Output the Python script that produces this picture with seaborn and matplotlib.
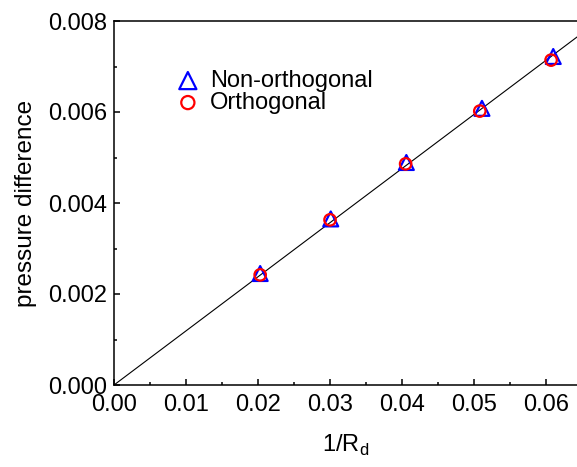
import seaborn as sns
import matplotlib.pyplot as plt
import pandas as pd
from matplotlib.ticker import MultipleLocator

# --- data ---
non_orth_x = [0.0203, 0.0301, 0.0406, 0.0511, 0.0610]
non_orth_y = [0.00245, 0.00365, 0.00489, 0.00608, 0.00722]
orth_x = [0.0203, 0.0300, 0.0405, 0.0508, 0.0607]
orth_y = [0.00242, 0.00363, 0.00486, 0.00602, 0.00714]
fit_x = [0.0, 0.066]
fit_y = [0.0, 0.00785]

x_ticks = [0.00, 0.01, 0.02, 0.03, 0.04, 0.05, 0.06]
y_ticks = [0.000, 0.002, 0.004, 0.006, 0.008]

non_orth = pd.DataFrame({"x": non_orth_x, "y": non_orth_y})
orth = pd.DataFrame({"x": orth_x, "y": orth_y})
fit = pd.DataFrame({"x": fit_x, "y": fit_y})

# --- style ---
sns.set_style("ticks")
plt.rcParams["font.family"] = ["Liberation Sans", "DejaVu Sans"]
plt.rcParams["axes.linewidth"] = 1.1
for key in ["text.color", "axes.labelcolor", "xtick.color", "ytick.color", "axes.edgecolor"]:
    plt.rcParams[key] = "black"

fig = plt.figure(figsize=(5.77, 4.67), dpi=100)
ax = fig.add_axes([114 / 577, 82 / 467, 1 - 114 / 577, 364 / 467])

sns.lineplot(data=fit, x="x", y="y", color="black", linewidth=0.8, ax=ax)
sns.scatterplot(data=non_orth, x="x", y="y", marker="^", s=115,
                facecolors="none", edgecolor="blue", linewidth=1.6,
                label="Non-orthogonal", ax=ax, zorder=3)
sns.scatterplot(data=orth, x="x", y="y", marker="o", s=68,
                facecolors="none", edgecolor="red", linewidth=1.6,
                label="Orthogonal", ax=ax, zorder=4)

ax.set_xlim(0, 0.0643)
ax.set_ylim(0, 0.008)
ax.set_xticks(x_ticks)
ax.set_yticks(y_ticks)
ax.set_xticklabels([f"{v:.2f}" for v in x_ticks])
ax.set_yticklabels([f"{v:.3f}" for v in y_ticks])
ax.xaxis.set_minor_locator(MultipleLocator(0.005))
ax.yaxis.set_minor_locator(MultipleLocator(0.001))
ax.tick_params(which="both", direction="in", width=1.1, top=False, right=False)
ax.tick_params(which="major", length=4.5, labelsize=17)
ax.tick_params(which="minor", length=2.5)
ax.tick_params(axis="x", pad=6.5)
ax.tick_params(axis="y", pad=5)
ax.spines["right"].set_visible(False)

ax.set_xlabel("1/R$_\\mathregular{d}$", fontsize=17, labelpad=12)
ax.set_ylabel("pressure difference", fontsize=17.5, labelpad=8)

ax.legend(loc="upper left", bbox_to_anchor=(0.134, 0.866), frameon=False,
          fontsize=17, handlelength=1.0, handletextpad=0.45,
          labelspacing=0.0, borderpad=0, borderaxespad=0, markerscale=1.15)

fig.savefig("out.png", dpi=100)
plt.close(fig)
